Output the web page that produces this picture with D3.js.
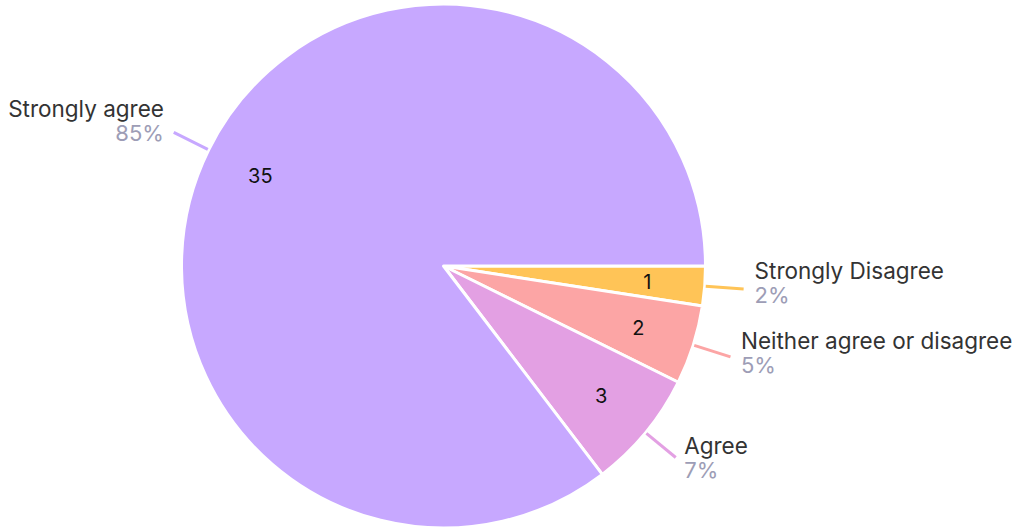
<!DOCTYPE html>
<html><head><meta charset="utf-8">
<script src="https://cdn.jsdelivr.net/npm/d3@7"></script>
<style>body{margin:0;background:#fff;}svg{display:block;}</style>
</head><body>
<svg id="c" width="1017" height="529"></svg>
<script>
const categories = ["Strongly Disagree", "Neither agree or disagree", "Agree", "Strongly agree"];
const values = [1, 2, 3, 35];
const colors = ["#ffc457", "#fca5a5", "#e3a0e3", "#c7a8ff"];

const W = 1017, H = 529, cx = 443.5, cy = 266, R = 262;
const svg = d3.select("#c");
const g = svg.append("g").attr("transform", `translate(${cx},${cy})`);
const total = d3.sum(values);
const pie = d3.pie().sort(null).value(d => d.v).startAngle(Math.PI/2).endAngle(Math.PI/2 + 2*Math.PI);
const data = pie(categories.map((c,i) => ({c, v: values[i], col: colors[i]})));
const arc = d3.arc().innerRadius(0).outerRadius(R);
g.selectAll("path.s").data(data).join("path").attr("class","s")
  .attr("d", arc).attr("fill", d => d.data.col).attr("stroke","#fff").attr("stroke-width",3).attr("stroke-linejoin","round");

const inner = d3.arc().innerRadius(R*0.78).outerRadius(R*0.78);
g.selectAll("text.v").data(data).join("text").attr("class","v")
  .attr("transform", d => `translate(${inner.centroid(d)})`)
  .attr("text-anchor","middle").attr("dy","0.36em")
  .attr("font-family","Inter, sans-serif").attr("font-size",20).attr("fill","#111")
  .text(d => d.data.v);

const l1 = d3.arc().innerRadius(R+1).outerRadius(R+1);
const l2 = d3.arc().innerRadius(R+39).outerRadius(R+39);
const l3 = d3.arc().innerRadius(R+50).outerRadius(R+50);
data.forEach(d => {
  const a = l1.centroid(d), b = l2.centroid(d), t = l3.centroid(d);
  const mid = (d.startAngle + d.endAngle)/2;
  const right = Math.sin(mid) > 0;
  g.append("line").attr("x1",a[0]).attr("y1",a[1]).attr("x2",b[0]).attr("y2",b[1])
    .attr("stroke", d.data.col).attr("stroke-width",3);
  const anchor = right ? "start" : "end";
  g.append("text").attr("x", t[0]).attr("y", t[1]-11).attr("text-anchor",anchor)
    .attr("font-family","Inter, sans-serif").attr("font-size",22.5).attr("fill","#333").text(d.data.c);
  g.append("text").attr("x", t[0]).attr("y", t[1]+13).attr("text-anchor",anchor)
    .attr("font-family","Inter, sans-serif").attr("font-size",22).attr("fill","#9d9db6")
    .text(Math.round(d.data.v/total*100) + "%");
});
</script>
</body></html>
